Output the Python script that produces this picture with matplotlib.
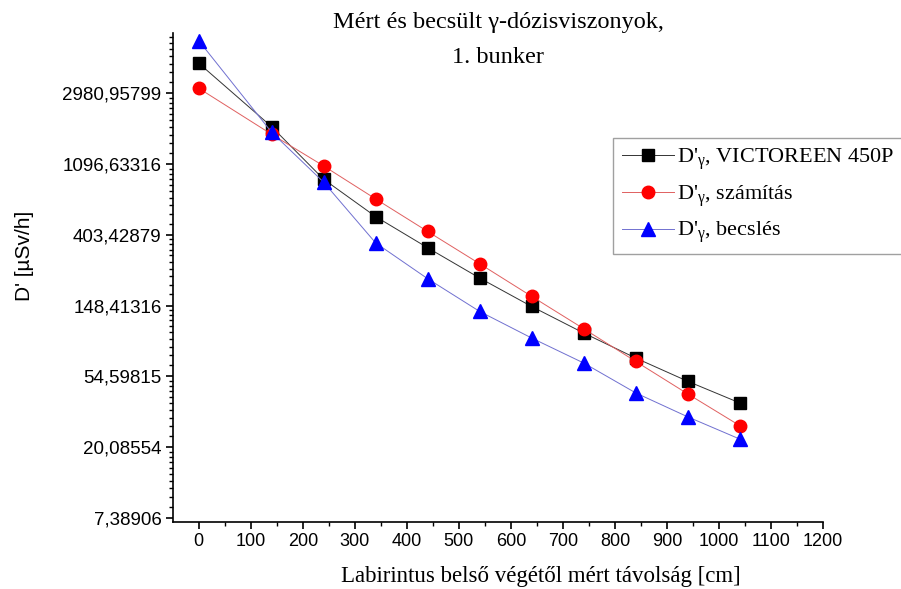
import numpy as np
import matplotlib
matplotlib.use("Agg")
import matplotlib.pyplot as plt
from matplotlib.ticker import FixedLocator, FuncFormatter, NullFormatter

plt.rcParams['mathtext.fontset'] = 'custom'
plt.rcParams['mathtext.rm'] = 'Liberation Serif'
plt.rcParams['mathtext.it'] = 'Liberation Serif:italic'

# distance from inner end of labyrinth [cm]
dist = [0, 140, 240, 340, 440, 540, 640, 740, 840, 940, 1040]
# dose rates [uSv/h]
victoreen = [4560, 1860, 885, 522, 336, 219, 146.5, 100.7, 70.7, 50.9, 37.5]
szamitas = [3200, 1670, 1068, 670, 423, 268, 169, 107, 67.4, 42.6, 27.2]
becsles = [6270, 1720, 849, 360, 217, 136.6, 93.8, 65.9, 43.2, 30.8, 22.5]

labels = ["D'$_\\mathrm{γ}$, VICTOREEN 450P",
          "D'$_\\mathrm{γ}$, számítás",
          "D'$_\\mathrm{γ}$, becslés"]

fig = plt.figure(figsize=(9.01, 5.89), dpi=100)
ax = fig.add_axes([0.1917, 0.1143, 0.7217, 0.8292])

ax.plot(dist, victoreen, color='#333333', lw=0.7, marker='s', ms=8,
        mfc='black', mec='black', label=labels[0])
ax.plot(dist, szamitas, color='#e06060', lw=0.7, marker='o', ms=9,
        mfc='red', mec='red', label=labels[1])
ax.plot(dist, becsles, color='#7070d0', lw=0.7, marker='^', ms=10,
        mfc='blue', mec='blue', label=labels[2])

ax.set_yscale('log')
ax.set_ylim(7.0, 6960)
ax.set_xlim(-50, 1200)

# ln-scale ticks like the original
major = [np.e ** n for n in range(2, 9)]
ax.yaxis.set_major_locator(FixedLocator(major))
ax.yaxis.set_major_formatter(FuncFormatter(lambda v, p: ('%.5f' % v).replace('.', ',')))
minor = []
for n in range(2, 9):
    lo, hi = np.e ** n, np.e ** (n + 1)
    for k in range(1, 10):
        minor.append(lo + k * (hi - lo) / 10)
ax.yaxis.set_minor_locator(FixedLocator(minor))
ax.yaxis.set_minor_formatter(NullFormatter())

ax.set_xticks(range(0, 1201, 100))
ax.set_xticks(range(50, 1200, 100), minor=True)
ax.xaxis.set_minor_formatter(NullFormatter())

for s in ['top', 'right']:
    ax.spines[s].set_visible(False)
for s in ['left', 'bottom']:
    ax.spines[s].set_linewidth(1.2)

ax.tick_params(which='major', direction='out', length=5, width=1.2, pad=3)
ax.tick_params(which='minor', direction='out', length=3, width=1.0)
ax.tick_params(axis='y', labelsize=13.5)
ax.tick_params(axis='x', labelsize=13)
for t in ax.get_xticklabels() + ax.get_yticklabels():
    t.set_fontfamily('Liberation Sans')

fig.text(0.6, 0.022, 'Labirintus belső végétől mért távolság [cm]', ha='center',
         va='center', fontfamily='Liberation Serif', fontsize=16.5)
fig.text(0.027, 0.565, "D' [µSv/h]", rotation=90, ha='center', va='center',
         fontfamily='Liberation Sans', fontsize=15)

fig.text(0.553, 0.962, 'Mért és becsült γ-dózisviszonyok,', ha='center',
         va='center', fontfamily='Liberation Serif', fontsize=17.5)
fig.text(0.553, 0.903, '1. bunker', ha='center', va='center',
         fontfamily='Liberation Serif', fontsize=17.5)

leg = ax.legend(loc='upper left', bbox_to_anchor=(613 / 901, 1 - 137.7 / 589),
                bbox_transform=fig.transFigure, prop={'family': 'Liberation Serif', 'size': 16},
                frameon=True, fancybox=False, handlelength=2.35, handletextpad=0.15,
                labelspacing=0.5, borderpad=0.4, borderaxespad=0)
leg.get_frame().set_edgecolor('#888888')
leg.get_frame().set_linewidth(1.0)

fig.savefig('out.png', dpi=100)
